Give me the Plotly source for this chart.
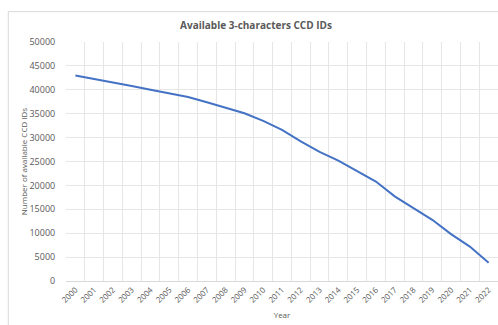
import plotly.graph_objects as go

# Available 3-character CCD IDs per year
years = [str(y) for y in range(2000, 2023)]
available_ids = [43000, 42300, 41600, 40800, 40000, 39300, 38500, 37400,
                 36300, 35100, 33500, 31600, 29200, 27000, 25200, 23000,
                 20800, 17700, 15300, 12800, 9800, 7200, 3800]
y_ticks = list(range(0, 50001, 5000))

text_gray = "#595959"
grid_gray = "#e6e6e6"
font_family = "Open Sans, Liberation Sans, sans-serif"

fig = go.Figure()
fig.add_trace(go.Scatter(
    x=years, y=available_ids, mode="lines",
    line=dict(color="#4472C4", width=2),
    showlegend=False,
))

fig.update_layout(
    width=498, height=325,
    margin=dict(l=66, r=0, t=42, b=44),
    paper_bgcolor="white", plot_bgcolor="white",
    font=dict(family=font_family, color=text_gray, size=9),
    title=dict(
        text="<b>Available 3-characters CCD IDs</b>",
        x=256 / 498, xanchor="center", y=1 - 25 / 325, yanchor="middle",
        font=dict(size=10, color=text_gray, family=font_family),
    ),
    shapes=[dict(
        type="rect", xref="paper", yref="paper",
        x0=-0.1336, x1=1.05, y0=-0.3, y1=1.127,
        line=dict(color="#d9d9d9", width=1), layer="below",
    )],
)

fig.update_xaxes(
    type="category", range=[-0.5, 22.5],
    tickson="boundaries", showgrid=True, gridcolor=grid_gray, gridwidth=1,
    showline=True, linecolor="#d9d9d9", linewidth=1,
    ticks="", tickangle=-45, tickfont=dict(size=8, color=text_gray),
    title=dict(text="Year", font=dict(size=8, color=text_gray), standoff=8),
    automargin=False,
)
fig.update_yaxes(
    range=[0, 50000], tickvals=y_ticks, ticktext=[str(v) for v in y_ticks],
    showgrid=True, gridcolor=grid_gray, gridwidth=1, zeroline=False,
    ticks="outside", ticklen=8, tickcolor="rgba(0,0,0,0)",
    tickfont=dict(size=9, color=text_gray),
    title=dict(text="Number of available CCD IDs", font=dict(size=8, color=text_gray), standoff=0),
    automargin=False,
)

fig.write_html("out.html")
